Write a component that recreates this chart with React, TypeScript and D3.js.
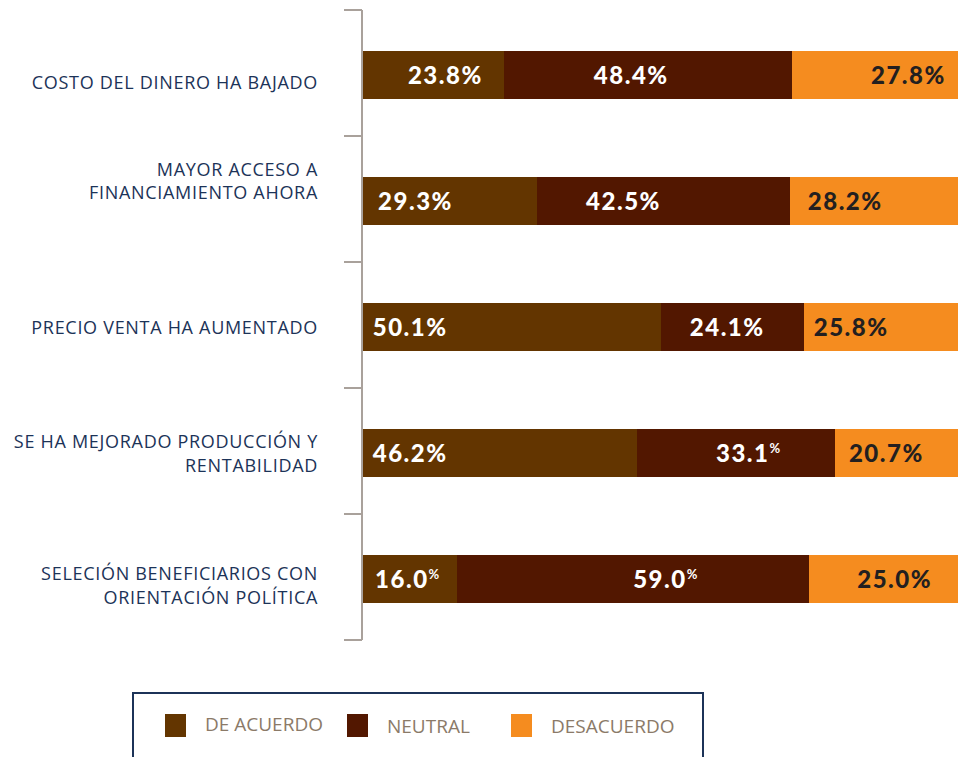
import React from "react";
import * as d3 from "d3";

const categories: string[][] = [
  ["COSTO DEL DINERO HA BAJADO"],
  ["MAYOR ACCESO A", "FINANCIAMIENTO AHORA"],
  ["PRECIO VENTA HA AUMENTADO"],
  ["SE HA MEJORADO PRODUCCIÓN Y", "RENTABILIDAD"],
  ["SELECIÓN BENEFICIARIOS CON", "ORIENTACIÓN POLÍTICA"],
];
const seriesNames = ["DE ACUERDO", "NEUTRAL", "DESACUERDO"];
const deAcuerdo = [23.8, 29.3, 50.1, 46.2, 16.0];
const neutral = [48.4, 42.5, 24.1, 33.1, 59.0];
const desacuerdo = [27.8, 28.2, 25.8, 20.7, 25.0];
// whether the % sign is drawn as a small superscript
const smallPct = [
  [false, false, false],
  [false, false, false],
  [false, false, false],
  [false, true, false],
  [true, true, false],
];

// layout (annotation placement, in axis percent units)
const labelAt = [
  [7.7, 38.9, 85.4],
  [2.7, 37.6, 74.8],
  [1.8, 55.0, 75.8],
  [1.8, 59.4, 81.7],
  [2.2, 45.5, 83.1],
];
const catNudge = [8, -19.5, 1, 1, 7];
const legendX = [165, 347, 511];

const colors = ["#633500", "#521700", "#F58C1F"];
const labelColors = ["#ffffff", "#ffffff", "#231f20"];

export default function App() {
  const W = 958,
    H = 757;
  const x = d3.scaleLinear().domain([0, 100]).range([362, 958]);
  const y = d3
    .scaleBand<number>()
    .domain(d3.range(categories.length))
    .range([10, 640])
    .padding(0);
  const barH = 48;
  const rows = categories.map((_, i) => ({
    i,
    vals: [deAcuerdo[i], neutral[i], desacuerdo[i]],
  }));
  const stack = d3
    .stack<any>()
    .keys(["0", "1", "2"])
    .value((d: any, k: string) => d.vals[+k]);
  const stacked = stack(rows);
  const ticks = [...y.domain().map((d) => y(d)!), 640];
  const catFont = "'Open Sans', sans-serif";
  const valFont = "Lato, sans-serif";

  return (
    <svg
      width={W}
      height={H}
      style={{ position: "absolute", left: 0, top: 0, background: "#fff" }}
    >
      {stacked.map((layer, si) =>
        layer.map((seg, ri) => {
          const cy = y(ri)! + y.bandwidth() / 2 + 2;
          const x0 = Math.round(x(seg[0]));
          const x1 = Math.round(x(seg[1]));
          return (
            <rect
              key={`r${si}-${ri}`}
              x={x0}
              y={cy - barH / 2}
              width={x1 - x0}
              height={barH}
              fill={colors[si]}
              shapeRendering="crispEdges"
            />
          );
        })
      )}
      {/* axis */}
      <line x1={362} x2={362} y1={10} y2={640} stroke="#a9a19b" strokeWidth={2} />
      {ticks.map((t, i) => (
        <line key={`t${i}`} x1={344} x2={362} y1={t} y2={t} stroke="#a9a19b" strokeWidth={2} />
      ))}
      {/* category labels */}
      {categories.map((lines, i) => {
        const cy = y(i)! + y.bandwidth() / 2 + 2 + catNudge[i];
        const lh = 23.5;
        const y0 = cy - ((lines.length - 1) * lh) / 2;
        return (
          <text
            key={`c${i}`}
            textAnchor="end"
            fontFamily={catFont}
            fontSize={18}
            letterSpacing={0.7}
            fill="#1c3358"
          >
            {lines.map((l, j) => (
              <tspan key={j} x={318} y={y0 + j * lh + 6}>
                {l}
              </tspan>
            ))}
          </text>
        );
      })}
      {/* value labels */}
      {rows.map((r) =>
        r.vals.map((v, si) => {
          const cy = y(r.i)! + y.bandwidth() / 2 + 2;
          const small = smallPct[r.i][si];
          return (
            <text
              key={`v${r.i}-${si}`}
              x={x(labelAt[r.i][si])}
              y={cy + 8.5}
              fontFamily={valFont}
              fontWeight={900}
              fontSize={24}
              letterSpacing={1.5}
              fill={labelColors[si]}
            >
              {v.toFixed(1)}
              {small ? (
                <tspan fontSize={13} dy={-9} fontWeight={700}>
                  %
                </tspan>
              ) : (
                "%"
              )}
            </text>
          );
        })
      )}
      {/* legend */}
      <rect x={133} y={693} width={570} height={80} fill="none" stroke="#1c3358" strokeWidth={2} />
      {seriesNames.map((n, i) => (
        <g key={n}>
          <rect x={legendX[i]} y={714} width={21} height={23} fill={colors[i]} />
          <text
            x={legendX[i] + 40}
            y={i === 0 ? 731 : 733}
            fontFamily={catFont}
            fontSize={19}
            fill="#8b7a68"
          >
            {n}
          </text>
        </g>
      ))}
    </svg>
  );
}
